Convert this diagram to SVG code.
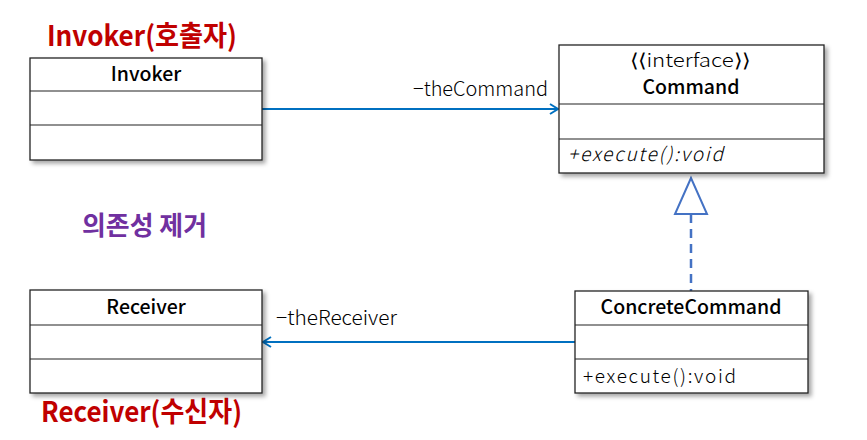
<svg xmlns="http://www.w3.org/2000/svg" width="867" height="440" viewBox="0 0 867 440">
<defs>
<filter id="sh" x="-10%" y="-10%" width="130%" height="130%"><feDropShadow dx="3" dy="3" stdDeviation="2" flood-color="#000" flood-opacity="0.35"/></filter>
<marker id="open" markerWidth="12" markerHeight="12" refX="10" refY="6" orient="auto" markerUnits="userSpaceOnUse"><path d="M2,1 L10,6 L2,11" fill="none" stroke="#0070C0" stroke-width="2"/></marker>
</defs>
<style>
.box{fill:#fff;stroke:#222;stroke-width:1.3}
.div{stroke:#222;stroke-width:1.2}
text{font-family:"Noto Sans CJK KR","Noto Sans",sans-serif;fill:#000}
.hd{font-size:19.5px;font-weight:500;text-anchor:middle}
.op{font-size:19px;font-weight:300}
.lbl{font-size:19.5px;font-weight:300}
.red{fill:#C00000;font-size:28px;font-weight:700}
.pur{fill:#7030A0;font-size:26px;font-weight:700}
.conn{stroke:#0070C0;stroke-width:2;fill:none}
</style>
<text class="red" x="47" y="46" textLength="190" lengthAdjust="spacingAndGlyphs">Invoker(호출자)</text>
<text class="pur" x="82" y="235" textLength="125" lengthAdjust="spacingAndGlyphs">의존성 제거</text>
<text class="red" x="41" y="422" textLength="201" lengthAdjust="spacingAndGlyphs">Receiver(수신자)</text>
<g id="connectors">
<line class="conn" x1="262" y1="109" x2="558" y2="109" marker-end="url(#open)"/>
<text class="lbl" x="413" y="96" textLength="135" lengthAdjust="spacingAndGlyphs">−theCommand</text>
<line class="conn" x1="575" y1="342" x2="263" y2="342" marker-end="url(#open)"/>
<text class="lbl" x="276" y="325" textLength="121" lengthAdjust="spacingAndGlyphs">−theReceiver</text>
<line x1="691" y1="214" x2="691" y2="291" stroke="#4472C4" stroke-width="2.5" stroke-dasharray="9,6"/>
<polygon points="691,178 675,214 707,214" fill="#fff" stroke="#4472C4" stroke-width="2"/>
</g>
<g id="invoker">
<rect class="box" x="30" y="58" width="232" height="102" filter="url(#sh)"/>
<line class="div" x1="30" y1="91" x2="262" y2="91"/>
<line class="div" x1="30" y1="125" x2="262" y2="125"/>
<text class="hd" x="146" y="81">Invoker</text>
</g>
<g id="command">
<rect class="box" x="559" y="45" width="265" height="128" filter="url(#sh)"/>
<line class="div" x1="559" y1="104" x2="824" y2="104"/>
<line class="div" x1="559" y1="139" x2="824" y2="139"/>
<text x="630" y="67" font-size="19" font-weight="300" textLength="120" lengthAdjust="spacingAndGlyphs">⟨⟨interface⟩⟩</text>
<text class="hd" x="691" y="94">Command</text>
<text class="op" x="568" y="161" font-style="italic" textLength="155" lengthAdjust="spacing">+execute():void</text>
</g>
<g id="concrete">
<rect class="box" x="575" y="291" width="233" height="102" filter="url(#sh)"/>
<line class="div" x1="575" y1="325" x2="808" y2="325"/>
<line class="div" x1="575" y1="359" x2="808" y2="359"/>
<text class="hd" x="691" y="314">ConcreteCommand</text>
<text class="op" x="583" y="383" textLength="153" lengthAdjust="spacing">+execute():void</text>
</g>
<g id="receiver">
<rect class="box" x="30" y="290" width="232" height="103" filter="url(#sh)"/>
<line class="div" x1="30" y1="325" x2="262" y2="325"/>
<line class="div" x1="30" y1="359" x2="262" y2="359"/>
<text class="hd" x="146" y="314">Receiver</text>
</g>
</svg>
